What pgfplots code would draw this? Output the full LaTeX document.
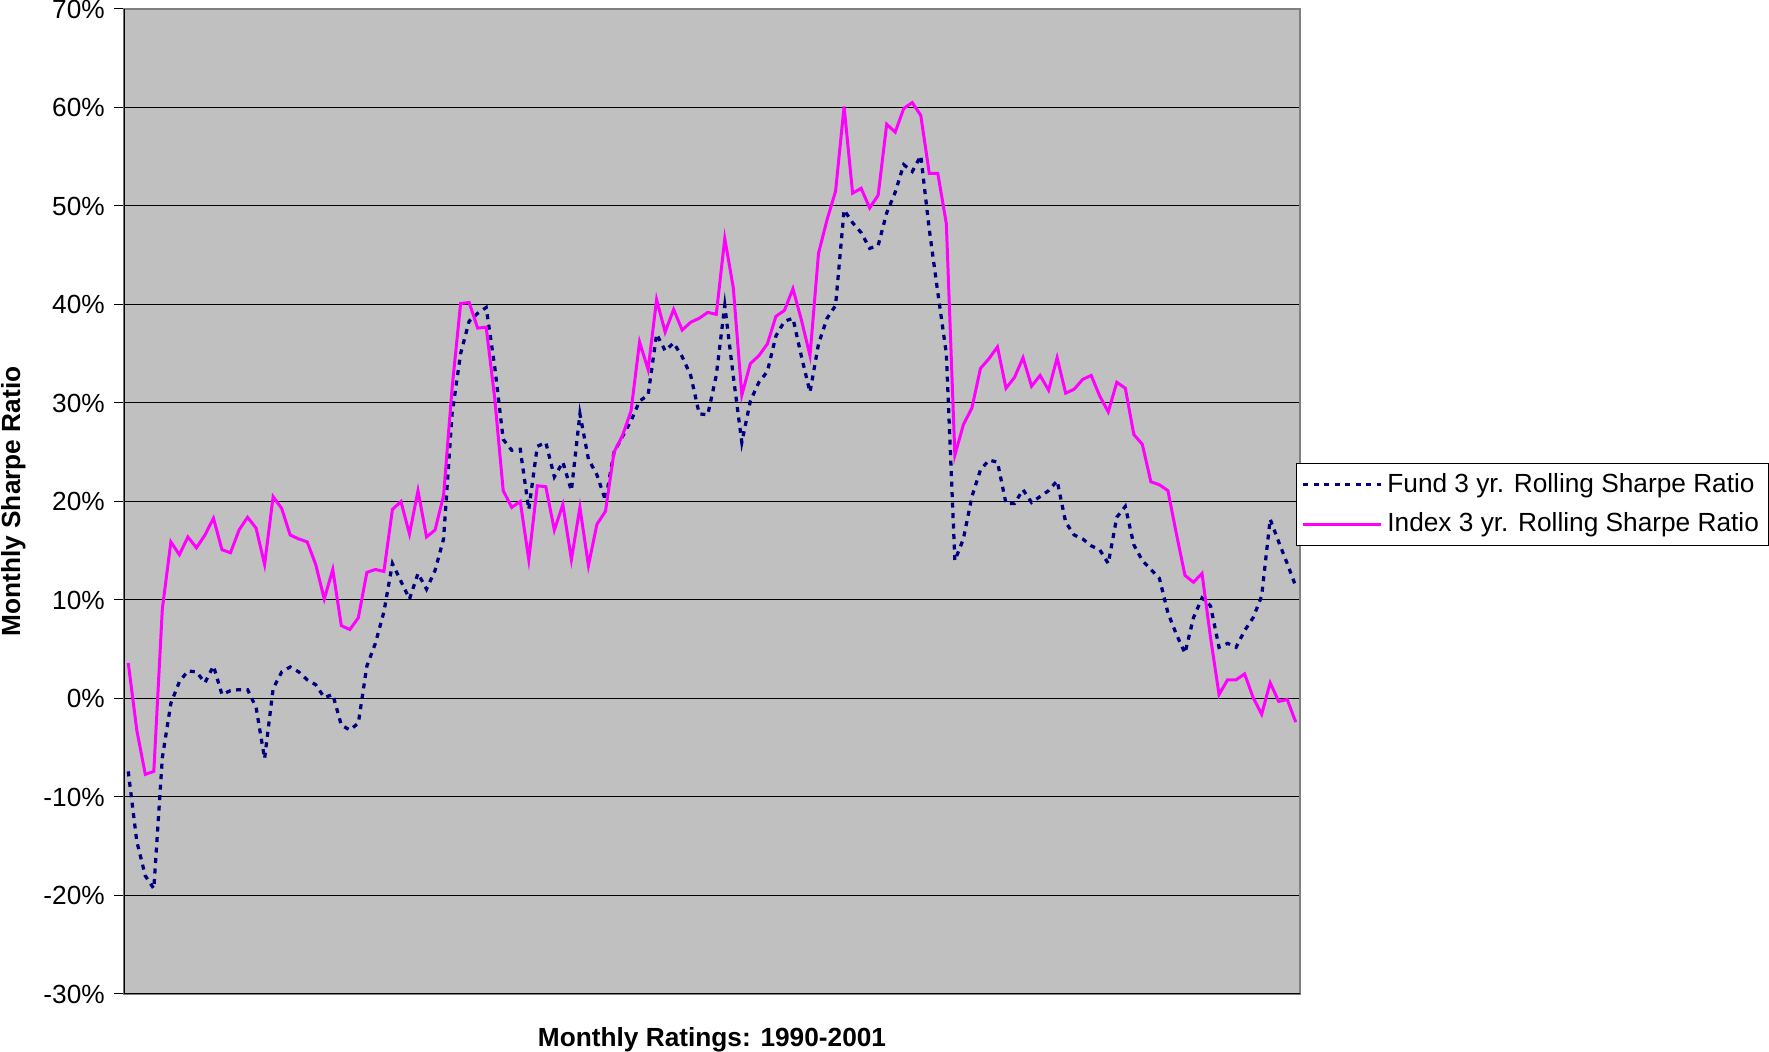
\documentclass[border=0pt]{standalone}
\usepackage{fontspec}
\setmainfont{Liberation Sans}
\usepackage{pgfplots}
\usepackage{pgfplotstable}
\pgfplotsset{compat=1.18}
\definecolor{plotgray}{RGB}{192,192,192}
\definecolor{fundnavy}{RGB}{0,0,128}
\definecolor{idxmag}{RGB}{255,0,255}
\definecolor{bordergray}{RGB}{128,128,128}

\pgfplotstableread{
i fund index
0 -7.4 3.6
1 -14.5 -3.2
2 -18.0 -7.7
3 -19.3 -7.4
4 -6.0 9.1
5 -0.5 15.9
6 1.7 14.6
7 2.8 16.4
8 2.7 15.3
9 1.6 16.6
10 3.3 18.3
11 0.4 15.1
12 0.8 14.8
13 0.9 17.1
14 0.9 18.4
15 -0.9 17.3
16 -6.1 13.6
17 1.0 20.5
18 2.7 19.3
19 3.2 16.6
20 2.7 16.2
21 1.9 15.9
22 1.4 13.6
23 0.1 10.1
24 0.4 13.1
25 -2.7 7.4
26 -3.2 7.0
27 -2.5 8.2
28 3.3 12.8
29 5.6 13.1
30 8.8 12.9
31 13.7 19.2
32 11.9 20.0
33 10.1 16.7
34 12.7 21.1
35 11.1 16.4
36 13.0 17.1
37 16.2 20.6
38 28.9 31.5
39 35.0 40.1
40 38.3 40.2
41 39.1 37.6
42 39.7 37.7
43 33.7 30.5
44 26.3 21.1
45 25.2 19.4
46 25.3 20.0
47 19.2 14.1
48 25.6 21.6
49 26.0 21.5
50 22.5 17.1
51 24.0 19.7
52 21.1 14.1
53 28.9 19.4
54 24.3 13.5
55 22.7 17.7
56 20.1 19.0
57 25.0 25.0
58 26.6 26.7
59 28.2 29.2
60 30.2 36.2
61 30.8 33.4
62 37.0 40.5
63 35.3 37.2
64 36.1 39.5
65 34.7 37.4
66 32.8 38.2
67 28.9 38.6
68 28.8 39.2
69 32.8 39.0
70 39.9 46.7
71 32.7 41.7
72 26.0 30.8
73 30.2 34.0
74 32.1 34.8
75 33.2 36.0
76 36.8 38.8
77 38.3 39.4
78 38.6 41.6
79 34.7 38.4
80 31.1 34.8
81 36.0 45.2
82 38.6 48.6
83 39.9 51.5
84 49.6 60.1
85 48.3 51.3
86 47.3 51.8
87 45.7 49.8
88 46.0 51.1
89 49.3 58.3
90 51.4 57.5
91 54.2 59.9
92 53.5 60.5
93 55.1 59.2
94 47.6 53.3
95 41.2 53.3
96 35.0 48.2
97 14.0 24.7
98 16.2 27.8
99 20.5 29.5
100 23.2 33.5
101 24.2 34.5
102 24.0 35.7
103 19.8 31.5
104 19.8 32.6
105 21.2 34.6
106 19.9 31.7
107 20.5 32.8
108 21.1 31.3
109 22.1 34.6
110 17.9 31.0
111 16.6 31.4
112 16.2 32.4
113 15.5 32.8
114 15.1 30.7
115 13.7 29.1
116 18.4 32.1
117 19.5 31.5
118 15.6 26.8
119 14.0 25.8
120 13.1 22.0
121 12.2 21.7
122 8.7 21.1
123 6.5 16.7
124 4.6 12.5
125 8.2 11.8
126 10.2 12.7
127 9.4 6.2
128 5.2 0.4
129 5.6 1.9
130 5.2 1.9
131 6.9 2.5
132 8.2 0.1
133 10.4 -1.6
134 18.2 1.6
135 15.9 -0.3
136 13.7 -0.1
137 11.4 -2.4
}\datatable

\begin{document}
\fontsize{10.5}{12.6}\selectfont
\begin{tikzpicture}
\useasboundingbox (-49.6pt,-23.2pt) rectangle (658pt,397.6pt);
\begin{axis}[
 at={(0,0)}, anchor=south west,
 scale only axis, width=470.4pt, height=394pt,
 xmin=-0.5, xmax=137.5, ymin=-30, ymax=70,
 xtick=\empty,
 ytick={-30,-20,...,70},
 yticklabels={-30\%,-20\%,-10\%,0\%,10\%,20\%,30\%,40\%,50\%,60\%,70\%},
 ytick pos=left,
 tick align=outside, major tick length=4pt,
 tick style={black, line width=0.4pt},
 ymajorgrids, grid style={black, line width=0.4pt},
 axis background/.style={fill=plotgray},
 axis line style={draw=bordergray, line width=1pt},
 xlabel={\bfseries Monthly Ratings: 1990-2001},
 ylabel={\bfseries Monthly Sharpe Ratio},
 every axis x label/.style={at={(axis description cs:0.5,-0.046)},anchor=center},
 every axis y label/.style={at={(axis description cs:-0.094,0.5)},rotate=90,anchor=center},
 legend style={at={(axis description cs:0.9966,0.497)}, anchor=west, draw=black, fill=white, line width=0.5pt, row sep=2.6pt, inner xsep=2pt, inner ysep=2pt, cells={anchor=west}},
 legend image code/.code={\draw[#1] (0pt,0pt) -- (31pt,0pt);},
]
\addplot[fundnavy, line width=1.3pt, dash pattern=on 2pt off 2.2pt] table[x=i,y=fund]{\datatable};
\addlegendentry{Fund 3 yr. Rolling Sharpe Ratio}
\addplot[idxmag, line width=1.2pt] table[x=i,y=index]{\datatable};
\addlegendentry{Index 3 yr. Rolling Sharpe Ratio}
\draw[black, line width=0.8pt] (rel axis cs:0,1) -- (rel axis cs:0,0) -- (rel axis cs:1,0);
\end{axis}
\end{tikzpicture}
\end{document}
